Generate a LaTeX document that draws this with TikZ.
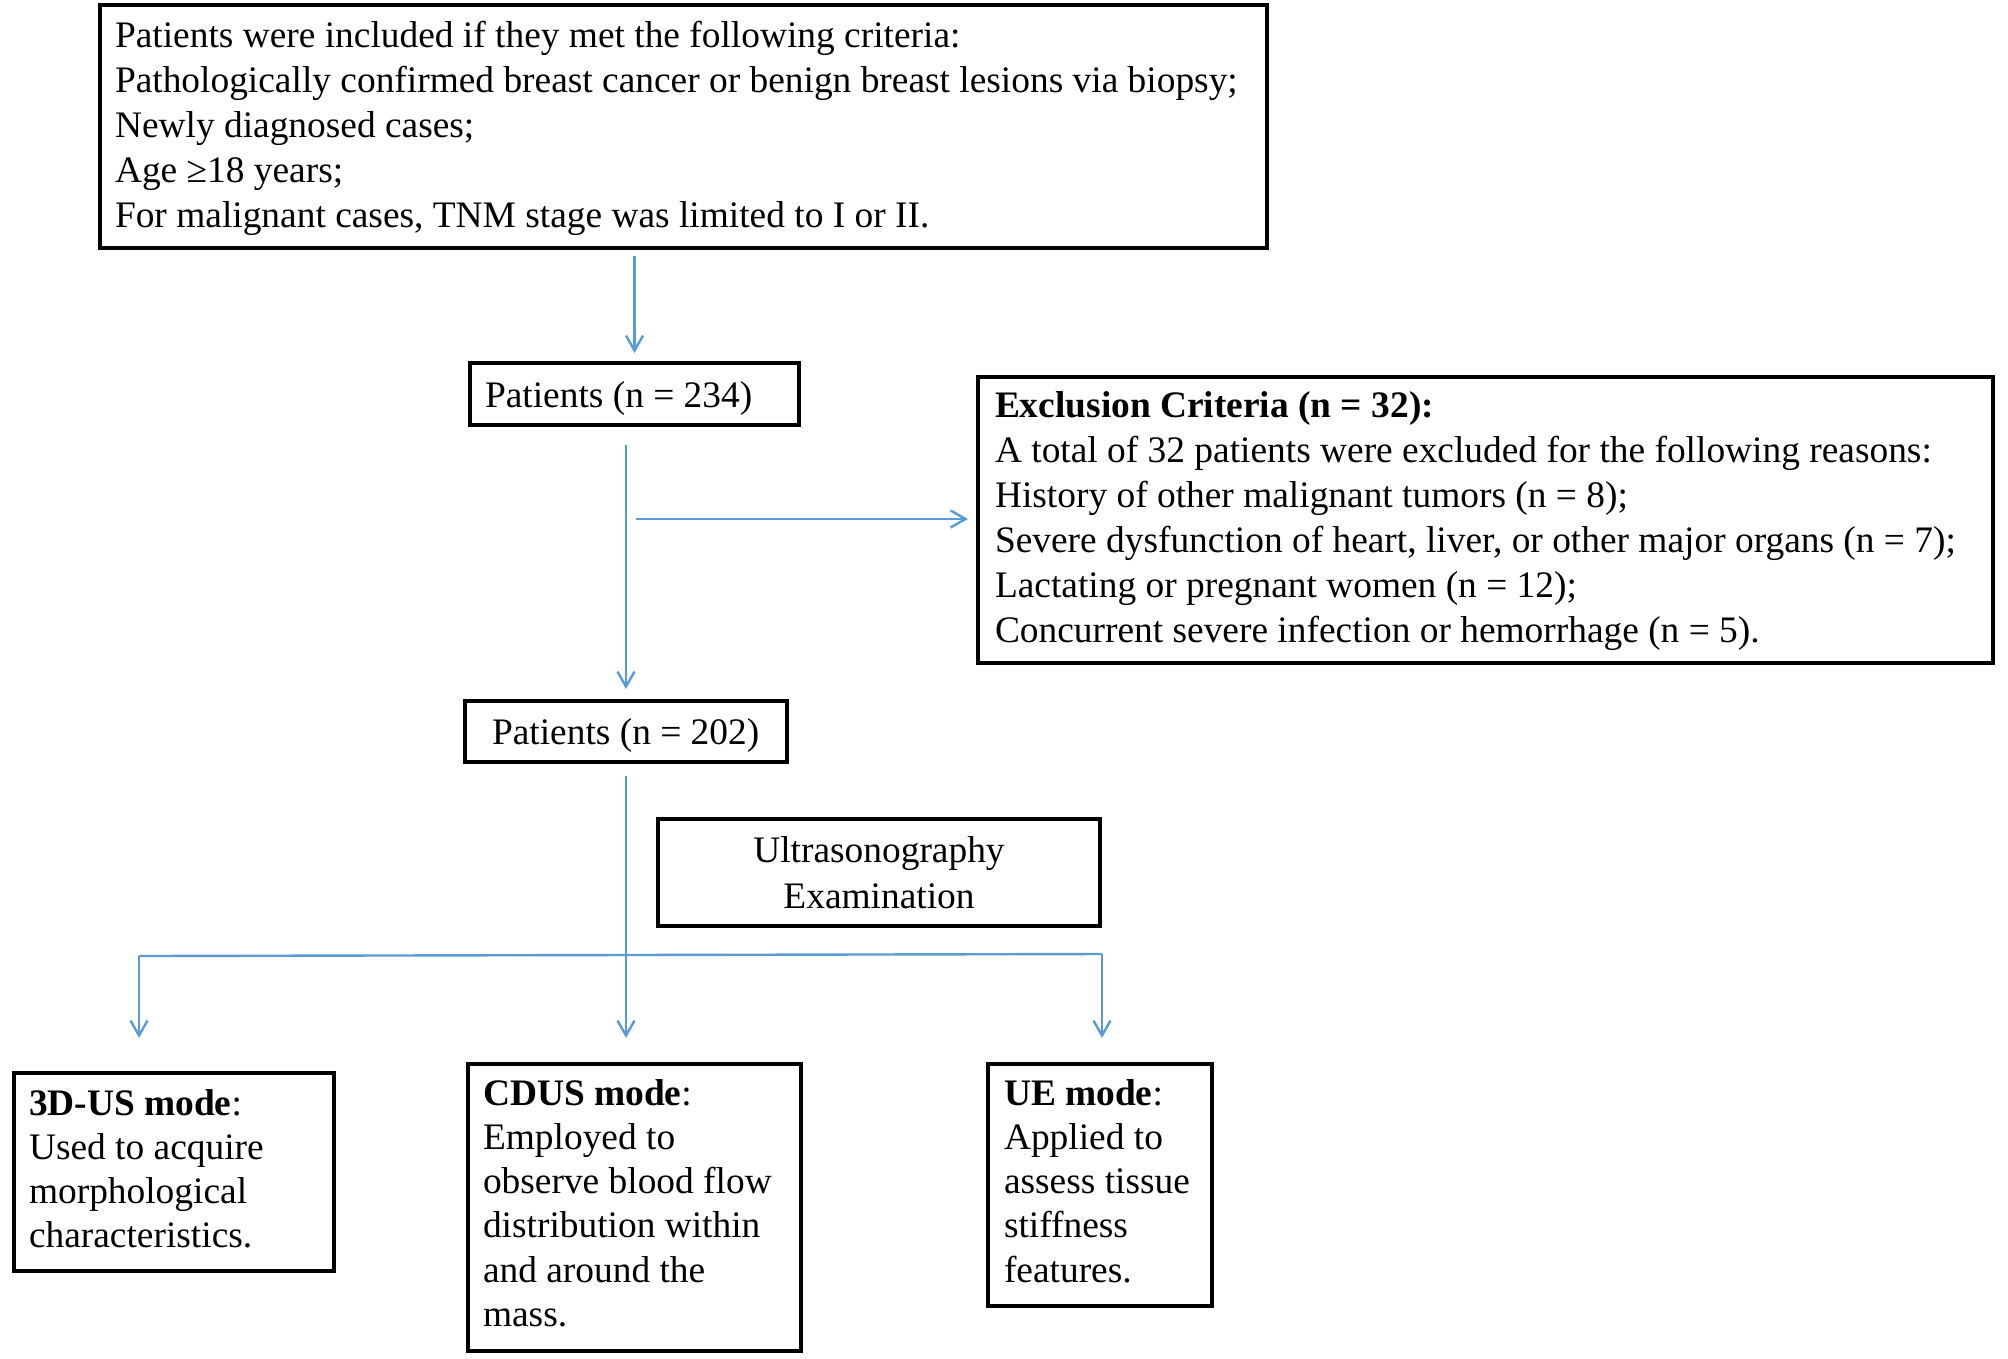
\documentclass[tikz,border=0pt]{standalone}
\usepackage{fontspec}
\setmainfont{Liberation Serif}
\usetikzlibrary{arrows.meta}
\definecolor{arrblue}{HTML}{5B9BD5}
\begin{document}
\begin{tikzpicture}[x=1pt,y=-1pt,
  boxnode/.style={draw=black,line width=3.2pt,inner sep=0pt,outer sep=0pt,anchor=north west,rectangle},
  txt/.style={inner sep=0pt,outer sep=0pt,anchor=base west,align=left,font=\fontsize{37.4}{45}\selectfont},
  txtm/.style={txt,font=\fontsize{37.4}{44.3}\selectfont},
  conn/.style={draw=arrblue,line width=2.4pt},
  arr/.style={conn,-{Straight Barb[length=15pt,width=17pt,line width=2.4pt]}}]
\useasboundingbox (0,0) rectangle (2008,1358);
% boxes
\node[boxnode,minimum width=1167pt,minimum height=243pt] (incl) at (100,5) {};
\node[boxnode,minimum width=329pt,minimum height=62pt] (p234) at (470,363) {};
\node[boxnode,minimum width=1015pt,minimum height=286pt] (excl) at (978,377) {};
\node[boxnode,minimum width=322pt,minimum height=61pt] (p202) at (465,701) {};
\node[boxnode,minimum width=442pt,minimum height=107pt] (us) at (658,819) {};
\node[boxnode,minimum width=320pt,minimum height=198pt] (m3d) at (14,1073) {};
\node[boxnode,minimum width=333pt,minimum height=287pt] (cdus) at (468,1064) {};
\node[boxnode,minimum width=224pt,minimum height=242pt] (ue) at (988,1064) {};
% texts (anchored at the baseline of their last line)
\node[txt] (inclt) at (115,227.6) {Patients were included if they met the following criteria:\\
Pathologically confirmed breast cancer or benign breast lesions via biopsy;\\
Newly diagnosed cases;\\
Age ≥18 years;\\
For malignant cases, TNM stage was limited to I or II.};
\node[txt] (p234t) at (485,407) {Patients (n = 234)};
\node[txt] (exclt) at (995,642) {\textbf{Exclusion Criteria (n = 32):}\\
A total of 32 patients were excluded for the following reasons:\\
History of other malignant tumors (n = 8);\\
Severe dysfunction of heart, liver, or other major organs (n = 7);\\
Lactating or pregnant women (n = 12);\\
Concurrent severe infection or hemorrhage (n = 5).};
\node[txt] (p202t) at (492,744) {Patients (n = 202)};
\node[txt,anchor=base,align=center,font=\fontsize{37.4}{46}\selectfont] (ust) at (879,908) {Ultrasonography\\Examination};
\node[txtm] (m3dt) at (29,1247.9) {\textbf{3D-US mode}:\\Used to acquire\\morphological\\characteristics.};
\node[txtm] (cdust) at (483,1326.5) {\textbf{CDUS mode}:\\Employed to\\observe blood flow\\distribution within\\and around the\\mass.};
\node[txtm] (uet) at (1004,1282.2) {\textbf{UE mode}:\\Applied to\\assess tissue\\stiffness\\features.};
% connectors
\coordinate (br1) at (636,519);
\coordinate (j) at (626,955);
\coordinate (l) at (139,956);
\coordinate (r) at (1102,954);
\draw[arr] ([yshift=-8pt]incl.south -| p234.north) -- ([yshift=10pt]p234.north);
\draw[arr] ([yshift=-20pt]p234.south -| p202.north) -- ([yshift=12pt]p202.north);
\draw[arr] (br1) -- ([xshift=-10pt]br1 -| excl.west);
\draw[conn] ([yshift=-14pt]p202.south) -- (j);
\draw[conn] (l) -- (j) -- (r);
\draw[arr] (j) -- ([yshift=26pt]j |- cdus.north);
\draw[arr] (l) -- ([yshift=35pt]l |- m3d.north);
\draw[arr] (r) -- ([yshift=26pt]r |- ue.north);
\end{tikzpicture}
\end{document}
